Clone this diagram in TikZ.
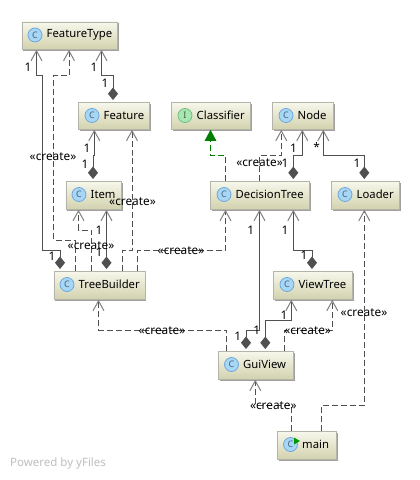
\documentclass[tikz,border=0pt]{standalone}
\usepackage{fontspec}
\setmainfont{Noto Sans}
\usetikzlibrary{arrows.meta}
\definecolor{linec}{HTML}{505050}
\definecolor{tipc}{HTML}{808080}
\definecolor{greenc}{HTML}{007F00}
\tikzset{
  x=1pt,y=-1pt,
  umlbox/.style={draw=boxedge,line width=0.8pt,top color=boxtop,bottom color=boxbot,inner sep=0pt,anchor=north west,text=black},
  lbl/.style={font=\fontsize{11.8}{14}\selectfont,text=black,inner sep=0pt,anchor=center},
  namelbl/.style={font=\fontsize{11.3}{14}\selectfont,text=black,inner sep=0pt,anchor=west},
  iconc/.style={circle,draw=iconedge,fill=iconfill,line width=0.8pt,minimum size=14pt,inner sep=0pt,font=\fontsize{9}{9}\selectfont,text=iconedge!60!black},
  iconi/.style={circle,draw=igreen,fill=igreenf,line width=0.8pt,minimum size=14pt,inner sep=0pt,font=\fontsize{9}{9}\selectfont,text=igreen!50!black},
  dep/.style={draw=linec,line width=0.9pt,dash pattern=on 6pt off 3pt,-{Straight Barb[length=10pt,width=11pt,color=tipc,line width=1pt]}},
  comp/.style={draw=linec,line width=0.9pt,{Diamond[length=12.5pt,width=10pt,color=linec,fill=linec]}-{Straight Barb[length=10pt,width=11pt,color=tipc,line width=1pt]},shorten <=2pt},
  real/.style={draw=greenc,line width=0.9pt,dash pattern=on 6pt off 3pt,-{Triangle[length=11pt,width=11.5pt,color=greenc,fill=greenc]}},
}
\definecolor{boxedge}{HTML}{B4B4A8}
\definecolor{boxtop}{HTML}{F7F7EC}
\definecolor{boxbot}{HTML}{D2D2AE}
\definecolor{iconedge}{HTML}{6FA8D8}
\definecolor{iconfill}{HTML}{A8D6F5}
\definecolor{igreen}{HTML}{6FBF7F}
\definecolor{igreenf}{HTML}{AAE6B4}
\definecolor{shadowc}{HTML}{A0A0A0}
\newcommand{\umlnode}[9]{%
  \fill[shadowc] (#2+1.5,#3+1.5) rectangle (#4+1.5,#5+1.5);
  \node[umlbox,minimum width=#4-#2,minimum height=#5-#3] (#1) at (#2,#3) {};
  \node[#8] (#1icon) at (#2+#9,#3+13.5) {#7};
  \node[namelbl] (#1name) at (#2+#9+11.5,#3+13.5) {#6};
}
\begin{document}
\begin{tikzpicture}
\useasboundingbox (0,0) rectangle (420,480);
\fill[white] (0,0) rectangle (420,480);

\umlnode{ft}{21.5}{21.5}{117}{49}{FeatureType}{C}{iconc}{13.5}
\umlnode{fe}{78}{102}{149}{129}{Feature}{C}{iconc}{14}
\umlnode{cl}{171}{102}{250}{129}{Classifier}{I}{iconi}{14}
\umlnode{no}{272}{102}{333}{129}{Node}{C}{iconc}{14}
\umlnode{dt}{210}{181}{309}{209}{DecisionTree}{C}{iconc}{14}
\umlnode{lo}{331}{181}{399}{209}{Loader}{C}{iconc}{14}
\umlnode{it}{65.5}{181}{121}{209}{Item}{C}{iconc}{13.5}
\umlnode{tb}{53.5}{271}{144.5}{299}{TreeBuilder}{C}{iconc}{13.5}
\umlnode{vt}{273}{271}{352}{299}{ViewTree}{C}{iconc}{14}
\umlnode{gv}{218}{351}{293}{379}{GuiView}{C}{iconc}{13.5}
\umlnode{ma}{277}{431}{336}{459}{main}{C}{iconc}{13.5}
\fill[green!60!black] (294,437.5) -- (300,441) -- (294,444.5) -- cycle;

% composition
\draw[comp] (tb.north -| 60,0) -- (60,250) -- (42.5,250) -- (42.5,75) -- (36.5,75) -- (ft.south -| 36.5,0);
\draw[comp] (fe.north -| 113,0) -- (113,75) -- (101.5,75) -- (ft.south -| 101.5,0);
\draw[comp] (it.north -| 93,0) -- (93,155.5) -- (94.3,155.5) -- (fe.south -| 94.3,0);
\draw[comp] (tb.north -| 106.5,0) -- (it.south -| 106.5,0);
\draw[comp] (dt.north -| 293.3,0) -- (293.3,155) -- (302.3,155) -- (no.south -| 302.3,0);
\draw[comp] (lo.north -| 364.3,0) -- (364.3,155) -- (323.3,155) -- (no.south -| 323.3,0);
\draw[comp] (vt.north -| 312,0) -- (312,250) -- (293.3,250) -- (dt.south -| 293.3,0);
\draw[comp] (gv.north -| 246,0) -- (246,330) -- (259.5,330) -- (dt.south -| 259.5,0);
\draw[comp] (gv.north -| 265.3,0) -- (265.3,320) -- (291.3,320) -- (vt.south -| 291.3,0);

% dependencies
\draw[dep] (tb.north -| 75.5,0) -- (75.5,240) -- (53.5,240) -- (53.5,75) -- (69,75) -- (ft.south -| 69,0);
\draw[dep] (tb.north -| 91.5,0) -- (91.5,230) -- (78.5,230) -- (it.south -| 78.5,0);
\draw[dep] (tb.north -| 122.5,0) -- (122.5,250) -- (132.5,250) -- (132.5,155) -- (132,155) -- (fe.south -| 132,0);
\draw[dep] (tb.north -| 137.5,0) -- (137.5,250) -- (225.5,250) -- (dt.south -| 225.5,0);
\draw[dep] (gv.north -| 226.7,0) -- (226.7,330) -- (98.5,330) -- (tb.south -| 98.5,0);
\draw[dep] (dt.north -| 259.5,0) -- (259.5,155) -- (281.3,155) -- (no.south -| 281.3,0);
\draw[dep] (gv.north -| 284.7,0) -- (284.7,330) -- (332.3,330) -- (vt.south -| 332.3,0);
\draw[dep] (ma.north -| 321.7,0) -- (321.7,405) -- (364.3,405) -- (lo.south -| 364.3,0);
\draw[dep] (ma.north -| 291.3,0) -- (291.3,405) -- (255.3,405) -- (gv.south -| 255.3,0);
\draw[real] (dt.north -| 225.5,0) -- (225.5,155.5) -- (210.5,155.5) -- (cl.south -| 210.5,0);

% labels
\node[lbl] (c1) at (53,157) {«create»};
\node[lbl] (c2) at (132.5,202) {«create»};
\node[lbl] (c3) at (91,246) {«create»};
\node[lbl] (c4) at (181,250.5) {«create»};
\node[lbl] (c5) at (162,331) {«create»};
\node[lbl] (c6) at (259.5,163) {«create»};
\node[lbl] (c7) at (307.7,331) {«create»};
\node[lbl] (c8) at (364,313) {«create»};
\node[lbl] (c9) at (273.3,406) {«create»};

\node[lbl] (n1) at (28,67.5) {1};
\node[lbl] (n2) at (94,67.5) {1};
\node[lbl] (n3) at (105,83.5) {1};
\node[lbl] (n4) at (87,148) {1};
\node[lbl] (n5) at (85,164) {1};
\node[lbl] (n6) at (52,256) {1};
\node[lbl] (n7) at (99,230) {1};
\node[lbl] (n8) at (99,252) {1};
\node[lbl] (n9) at (293.5,148) {1};
\node[lbl] (n10) at (285,163.5) {1};
\node[lbl] (n11) at (316.5,147) {*};
\node[lbl] (n12) at (357,163.5) {1};
\node[lbl] (n13) at (250.7,230) {1};
\node[lbl] (n14) at (285,230) {1};
\node[lbl] (n15) at (304,255.5) {1};
\node[lbl] (n16) at (284,315) {1};
\node[lbl] (n17) at (237.7,336) {1};
\node[lbl] (n18) at (256.7,330) {1};

\node[font=\fontsize{11.5}{13}\selectfont,text=black!25,inner sep=0pt,anchor=west] (pw) at (10,463.5) {Powered by yFiles};
\end{tikzpicture}
\end{document}
